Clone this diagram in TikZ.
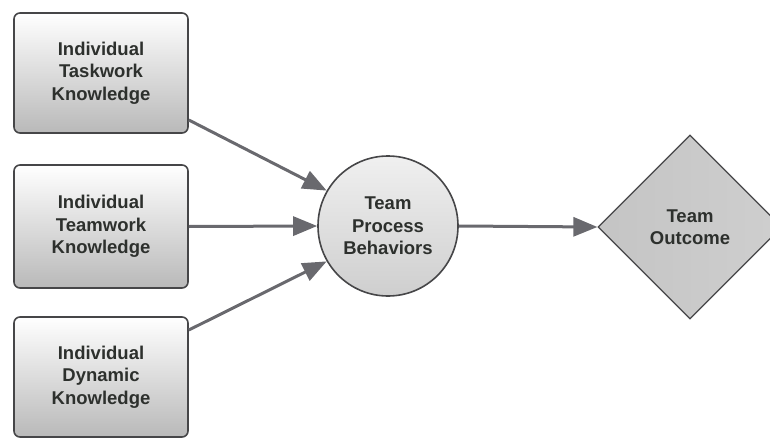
\documentclass[tikz,border=0pt]{standalone}
\usepackage{fontspec}
\setmainfont{Liberation Sans}
\usetikzlibrary{shapes.geometric,arrows.meta}
\definecolor{edgegray}{RGB}{70,70,72}
\definecolor{arrgray}{RGB}{105,105,110}
\definecolor{txtgray}{RGB}{45,48,45}
\begin{document}
\begin{tikzpicture}[x=1pt,y=-1pt,
  kbox/.style={draw=edgegray, line width=1.6pt, rounded corners=6pt,
    top color=white, bottom color=gray!55, minimum width=174pt, minimum height=120pt,
    align=center, font=\bfseries\fontsize{18.5}{22.5}\selectfont, text=txtgray},
  proc/.style={circle, draw=edgegray, line width=1.6pt, top color=gray!12, bottom color=gray!38,
    minimum size=140pt, inner sep=0pt, align=center, font=\bfseries\fontsize{18.5}{22.5}\selectfont, text=txtgray},
  outc/.style={diamond, draw=edgegray, line width=1.2pt, left color=gray!46, right color=gray!38,
    minimum width=184pt, minimum height=184pt, inner sep=0pt, align=center,
    font=\bfseries\fontsize{18.5}{22.5}\selectfont, text=txtgray},
  conn/.style={draw=arrgray, line width=3pt, -{Triangle[length=24pt,width=19pt]}, arrgray}]
\useasboundingbox (0,0) rectangle (770,441);
\node[kbox] (b1) at (101,73) {Individual\\Taskwork\\Knowledge};
\node[kbox, minimum height=123pt] (b2) at (101,226.5) {Individual\\Teamwork\\Knowledge};
\node[kbox] (b3) at (101,377) {Individual\\Dynamic\\Knowledge};
\node[proc] (p) at (388,226) {Team\\Process\\Behaviors};
\node[outc] (o) at (690,227) {Team\\Outcome};
\draw[conn] ([yshift=-47pt]b1.east) -- (p.150);
\draw[conn] (b2.east) -- (p.west);
\draw[conn] ([yshift=47pt]b3.east) -- (p.210);
\draw[conn] (p.east) -- (o.west);
\end{tikzpicture}
\end{document}
